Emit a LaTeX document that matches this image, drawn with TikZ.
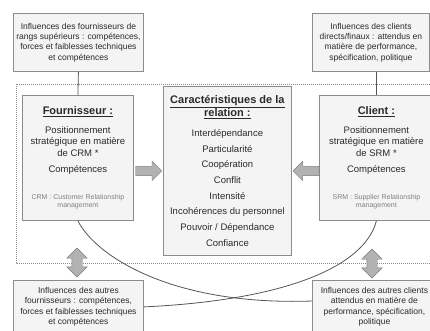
\documentclass[tikz,border=0pt]{standalone}
\usepackage{fontspec}
\setmainfont{Liberation Sans}
\usetikzlibrary{shapes.arrows,calc}

\definecolor{boxfill}{HTML}{F4F4F4}
\definecolor{boxline}{HTML}{8C8C8C}
\definecolor{arrowfill}{HTML}{B2B2B2}
\definecolor{arrowline}{HTML}{7A7A7A}
\definecolor{notegray}{HTML}{808080}
\definecolor{textgray}{HTML}{2A2A2A}

\newcommand{\headfont}{\fontsize{11}{13}\selectfont\bfseries}
\newcommand{\notefont}{\fontsize{7}{8}\selectfont\color{notegray}}

\begin{document}
\begin{tikzpicture}[x=1pt, y=-1pt,
    infobox/.style={draw=boxline, line width=0.8pt, fill=boxfill, align=center, text=textgray,
        font=\fontsize{8.5}{10.4}\selectfont, inner sep=1pt, anchor=north west},
    actorbox/.style={draw=boxline, line width=0.8pt, fill=boxfill, align=center, text=textgray,
        font=\fontsize{9.5}{11.5}\selectfont, inner sep=1pt, anchor=north west},
    blockarrow/.style={single arrow, draw=arrowline, fill=arrowfill, minimum height=26pt,
        minimum width=0pt, single arrow head extend=5pt, inner sep=4.5pt, anchor=tip},
    updown/.style={double arrow, shape border rotate=90, draw=arrowline, fill=arrowfill,
        minimum height=29pt, minimum width=0pt, double arrow head extend=5pt, inner sep=5pt},
    link/.style={draw=textgray!80, line width=0.8pt}]

    \useasboundingbox (0,0) rectangle (430,330);

    % Dotted frame round the relation
    \draw[boxline, dash pattern=on 1pt off 1pt] (16,84) rectangle (440,263);

    % Outside influences
    \node[infobox, minimum width=130pt, minimum height=58pt] (topL) at (13,13)
        {Influences des fournisseurs de\\ rangs supérieurs : compétences,\\ forces et faiblesses techniques\\ et compétences};
    \node[infobox, minimum width=117pt, minimum height=58pt] (topR) at (312,13)
        {Influences des clients\\ directs/finaux : attendus en\\ matière de performance,\\ spécification, politique};
    \node[infobox, minimum width=130pt, minimum height=53pt] (botL) at (13,280)
        {Influences des autres\\ fournisseurs : compétences,\\ forces et faiblesses techniques\\ et compétences};
    \node[infobox, minimum width=124pt, minimum height=53pt] (botR) at (312,280)
        {Influences des autres clients\\ attendus en matière de\\ performance, spécification,\\ politique};

    % Supplier and customer
    \node[actorbox, minimum width=111pt, minimum height=125pt] (fourn) at (22,95)
        {{\headfont\underline{Fournisseur :}}\\[7pt]
         Positionnement\\ stratégique en matière\\ de CRM *\\[4.5pt]
         Compétences\\[16pt]
         {\notefont CRM : Customer Relationship}\\[-3.5pt] {\notefont management}};
    \node[actorbox, minimum width=114pt, minimum height=125pt] (client) at (319,95)
        {{\headfont\underline{Client :}}\\[7pt]
         Positionnement\\ stratégique en matière\\ de SRM *\\[4.5pt]
         Compétences\\[16pt]
         {\notefont SRM : Supplier Relationship}\\[-3.5pt] {\notefont management}};

    % Relation
    \node[actorbox, font=\fontsize{9.5}{15.7}\selectfont, minimum width=128pt, minimum height=169pt] (central) at (163,86)
        {{\headfont\underline{Caractéristiques de la}}\\[-2.7pt]
         {\headfont\underline{relation :}}\\[4.3pt]
         Interdépendance\\ Particularité\\ Coopération\\ Conflit\\ Intensité\\
         Incohérences du personnel\\ Pouvoir / Dépendance\\ Confiance};

    % Block arrows
    \node[blockarrow] (arrL) at ([xshift=-1pt]central.west) {};
    \node[blockarrow, shape border rotate=180] (arrR) at ([xshift=1pt]central.east) {};
    \node[updown] (dblL) at (77,262.5) {};
    \node[updown] (dblR) at (372,263.5) {};

    % Links
    \draw[link] (topL.south) -- (fourn.north);
    \draw[link] (client.north |- topR.south) -- (client.north);
    \draw[link] (fourn.south) .. controls (95,255) and (170,306) .. ([yshift=-21pt]botR.north west);
    \draw[link] (client.south) .. controls (365,265) and (290,300) .. (botL.east);

\end{tikzpicture}
\end{document}
